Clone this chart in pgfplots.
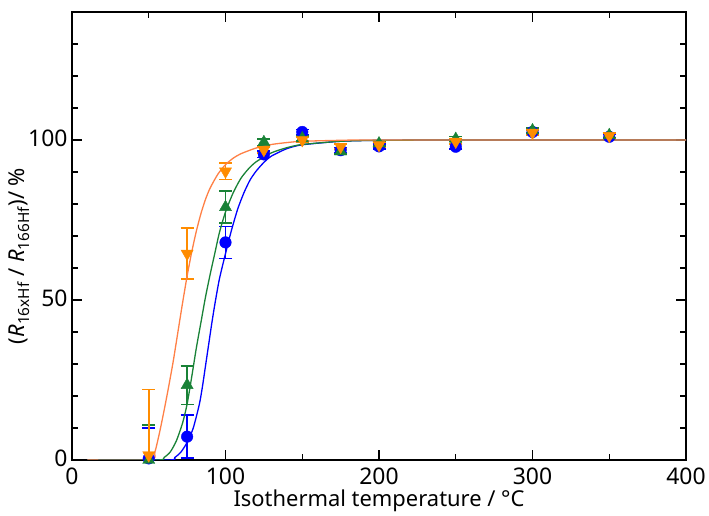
\documentclass[border=0pt]{standalone}
\usepackage{fontspec}
\setmainfont{Noto Sans}
\usepackage{pgfplots}
\pgfplotsset{compat=1.18}
\definecolor{cblue}{RGB}{0,0,255}
\definecolor{cgreen}{RGB}{25,130,55}
\definecolor{corange}{RGB}{255,140,0}
\definecolor{corangeline}{RGB}{255,128,70}
\begin{document}
\begin{tikzpicture}
\begin{axis}[
 scale only axis, width=614bp, height=448bp,
 xmin=0,xmax=400,ymin=0,ymax=140,
 xtick={0,100,200,300,400}, minor xtick={50,150,250,350},
 ytick={0,50,100}, minor ytick={10,20,...,130},
 tick align=inside, major tick length=10bp, minor tick length=6bp,
 every tick/.style={black, line width=1.2bp},
 axis line style={line width=1.4bp},
 ticklabel style={font=\fontsize{23}{25}\selectfont},
 label style={font=\fontsize{22}{24}\selectfont},
 xlabel={Isothermal temperature / °C},
 ylabel={(\textit{R}\textsubscript{16xHf} / \textit{R}\textsubscript{166Hf})/ \%},
 /pgf/number format/assume math mode=true,
 xticklabel style={yshift=-4bp},
 yticklabel style={xshift=-1bp, yshift=2bp},
 xlabel style={yshift=1bp},
 ylabel style={yshift=-8bp, xshift=-20bp},
 error bars/error bar style={line width=1.6bp},
 error bars/error mark options={rotate=90, mark size=6.5bp, line width=1.6bp},
]
% data points
\addplot[only marks, mark=*, mark size=5.8bp, color=cblue,
  error bars/.cd, y dir=both, y explicit]
 coordinates {
 (50,0.5) +- (0,9.5)
 (75,7.3) +- (0,6.7)
 (100,68) +- (0,5)
 (125,95.5) +- (0,1)
 (150,102.5) +- (0,0.8)
 (175,96.8) +- (0,0.8)
 (200,98) +- (0,0.8)
 (250,97.9) +- (0,0.8)
 (300,102.5) +- (0,0.8)
 (350,101) +- (0,0.8)
 };
\addplot[only marks, mark=triangle*, mark size=7bp, color=cgreen,
  error bars/.cd, y dir=both, y explicit]
 coordinates {
 (50,0) +- (0,11)
 (75,23.4) +- (0,6)
 (100,79) +- (0,5)
 (125,99.3) +- (0,1)
 (150,100.5) +- (0,0.8)
 (175,96.4) +- (0,0.8)
 (200,98.9) +- (0,0.8)
 (250,100.3) +- (0,0.8)
 (300,103) +- (0,0.8)
 (350,101.5) +- (0,0.8)
 };
\addplot[only marks, mark=triangle*, mark options={rotate=180}, mark size=7bp, color=corange,
  error bars/.cd, y dir=both, y explicit]
 coordinates {
 (50,1.5) +- (0,20.5)
 (75,64.5) +- (0,8)
 (100,90.2) +- (0,2.6)
 (125,96.9) +- (0,1)
 (150,100) +- (0,0.8)
 (175,97.9) +- (0,0.8)
 (200,98.4) +- (0,0.8)
 (250,99.5) +- (0,0.8)
 (300,102.3) +- (0,0.8)
 (350,101.3) +- (0,0.8)
 };
% fitted curves
\addplot[cblue, line width=1.3bp, smooth, tension=0.4] coordinates {
 (10,0) (63,0) (67,0.8) (71,2.5) (75,5.5) (79,10) (83,17.5) (85,23) (87,29.5)
 (89,36) (91,42.5) (93,48.5) (96,56.5) (100,64.5) (104,72) (108,78.5) (112,83.5)
 (116,87.5) (120,90.3) (125,93) (130,95) (140,97.3) (150,98.5) (175,99.6)
 (200,99.9) (250,100) (400,100)};
\addplot[cgreen, line width=1.3bp, smooth, tension=0.4] coordinates {
 (10,0) (56,0) (60,0.8) (64,2.5) (68,6) (72,11.5) (75,17.5) (78,26) (81,35)
 (84,43) (87,51) (90,58) (93,64.5) (96,71) (100,77.5) (105,83.5) (110,88)
 (115,91) (120,93.2) (130,96) (140,97.6) (150,98.6) (175,99.6) (200,99.9)
 (250,100) (400,100)};
\addplot[corangeline, line width=1.3bp, smooth, tension=0.4] coordinates {
 (10,0) (51,0) (54,2.5) (57,8.5) (60,15.5) (63,23) (66,31) (69,40) (72,49)
 (75,57.5) (78,65) (81,71.5) (84,77) (87,81.5) (90,85) (95,89.3) (100,92.3)
 (105,94.3) (110,95.7) (120,97.5) (130,98.6) (140,99.2) (150,99.6) (175,99.9)
 (200,100) (400,100)};
\end{axis}
\pgfresetboundingbox
\path ([shift={(-72bp,-56bp)}]current axis.south west) rectangle ([shift={(23bp,12bp)}]current axis.north east);
\end{tikzpicture}
\end{document}
